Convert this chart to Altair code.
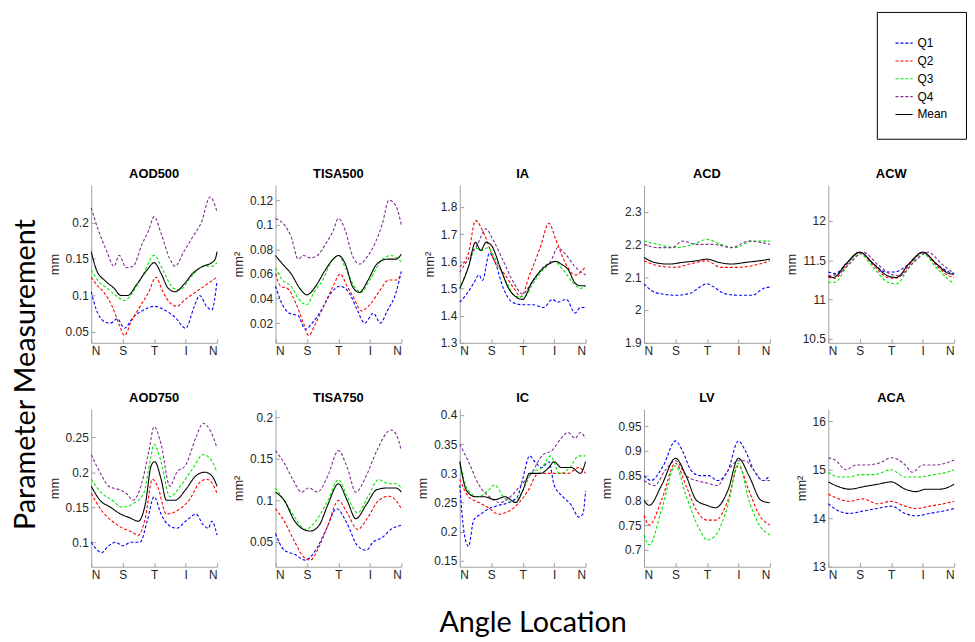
import altair as alt
import pandas as pd

SERIES = ["Q1", "Q2", "Q3", "Q4", "Mean"]
SERIES_COLORS = ["#0000ff", "#ff0000", "#00e600", "#7e2f8e", "#000000"]
SERIES_DASH = [[3, 2], [3, 2], [3, 2], [3, 2], [1, 0]]
SERIES_WIDTH = [1.1, 1.1, 1.1, 1.1, 2.5]
ANGLE_TICKS = [0, 90, 180, 270, 360]
ANGLE_LABELS = ["N", "S", "T", "I", "N"]

AOD500 = {
    "Q1": [(0, .105), (15, .08), (35, .065), (55, .062), (75, .068), (95, .055), (120, .07), (150, .08), (180, .085), (210, .08), (240, .07), (270, .055), (295, .085), (310, .1), (330, .085), (345, .08), (360, .12)],
    "Q2": [(0, .125), (15, .115), (35, .105), (60, .085), (80, .06), (95, .045), (115, .065), (140, .085), (165, .105), (185, .125), (205, .105), (225, .09), (245, .085), (270, .095), (300, .105), (330, .115), (360, .125)],
    "Q3": [(0, .135), (20, .12), (45, .11), (70, .1), (95, .093), (120, .105), (150, .13), (180, .155), (205, .135), (235, .11), (255, .108), (285, .125), (320, .14), (345, .14), (360, .145)],
    "Q4": [(0, .22), (20, .19), (45, .16), (65, .14), (80, .155), (100, .138), (120, .14), (145, .17), (165, .19), (180, .208), (200, .185), (225, .15), (240, .14), (265, .16), (290, .18), (315, .2), (340, .235), (360, .215)],
    "Mean": [(0, .16), (15, .135), (40, .12), (65, .11), (85, .1), (105, .1), (130, .115), (160, .135), (180, .145), (200, .13), (220, .11), (240, .105), (265, .115), (290, .13), (320, .14), (345, .145), (355, .15), (360, .16)],
}
TISA500 = {
    "Q1": [(0, .05), (20, .035), (40, .028), (65, .026), (85, .015), (105, .02), (130, .03), (160, .045), (185, .05), (210, .045), (235, .03), (255, .02), (280, .028), (300, .02), (320, .03), (345, .045), (360, .062)],
    "Q2": [(0, .06), (15, .05), (35, .048), (60, .035), (80, .02), (95, .01), (115, .02), (140, .035), (165, .05), (185, .06), (205, .05), (225, .04), (245, .03), (270, .035), (295, .045), (325, .055), (345, .055), (360, .06)],
    "Q3": [(0, .065), (20, .055), (45, .05), (65, .04), (90, .035), (110, .045), (135, .055), (160, .07), (180, .075), (200, .065), (225, .05), (245, .045), (270, .055), (300, .07), (330, .075), (360, .07)],
    "Q4": [(0, .105), (25, .1), (45, .09), (65, .072), (80, .075), (100, .073), (120, .075), (145, .085), (165, .095), (180, .105), (200, .095), (220, .075), (240, .068), (265, .075), (285, .085), (305, .1), (325, .12), (345, .115), (360, .1)],
    "Mean": [(0, .075), (20, .068), (45, .06), (70, .048), (90, .043), (115, .05), (140, .062), (165, .072), (180, .075), (200, .068), (220, .05), (240, .045), (265, .055), (290, .068), (320, .072), (345, .072), (360, .076)],
}
IA = {
    "Q1": [(0, 1.45), (20, 1.48), (40, 1.52), (55, 1.55), (65, 1.53), (85, 1.63), (100, 1.6), (125, 1.5), (150, 1.45), (180, 1.44), (210, 1.44), (240, 1.43), (265, 1.46), (280, 1.45), (305, 1.46), (330, 1.41), (345, 1.43), (360, 1.43)],
    "Q2": [(0, 1.58), (25, 1.63), (45, 1.75), (70, 1.7), (100, 1.6), (130, 1.55), (155, 1.5), (175, 1.47), (200, 1.55), (230, 1.65), (255, 1.74), (275, 1.68), (300, 1.6), (330, 1.55), (360, 1.58)],
    "Q3": [(0, 1.5), (25, 1.58), (45, 1.65), (60, 1.64), (80, 1.65), (105, 1.6), (135, 1.52), (160, 1.47), (185, 1.47), (210, 1.52), (240, 1.57), (270, 1.6), (295, 1.57), (325, 1.52), (345, 1.5), (360, 1.51)],
    "Q4": [(0, 1.56), (30, 1.62), (50, 1.66), (75, 1.72), (95, 1.68), (125, 1.6), (155, 1.52), (180, 1.48), (205, 1.52), (240, 1.58), (260, 1.6), (280, 1.65), (300, 1.63), (330, 1.58), (360, 1.55)],
    "Mean": [(0, 1.5), (25, 1.58), (45, 1.67), (60, 1.64), (75, 1.67), (90, 1.66), (115, 1.58), (140, 1.5), (160, 1.47), (180, 1.46), (205, 1.52), (235, 1.57), (255, 1.59), (275, 1.6), (290, 1.59), (310, 1.57), (330, 1.52), (345, 1.51), (360, 1.51)],
}
ACD = {
    "Q1": [(0, 2.08), (20, 2.06), (45, 2.05), (90, 2.045), (130, 2.05), (160, 2.07), (180, 2.08), (200, 2.07), (230, 2.05), (270, 2.045), (310, 2.045), (340, 2.065), (360, 2.07)],
    "Q2": [(0, 2.15), (40, 2.135), (90, 2.13), (130, 2.14), (180, 2.15), (220, 2.13), (270, 2.13), (310, 2.135), (360, 2.15)],
    "Q3": [(0, 2.21), (40, 2.2), (90, 2.19), (140, 2.2), (180, 2.215), (220, 2.2), (260, 2.19), (310, 2.21), (360, 2.21)],
    "Q4": [(0, 2.2), (40, 2.19), (80, 2.19), (110, 2.21), (150, 2.2), (200, 2.2), (250, 2.19), (300, 2.21), (360, 2.2)],
    "Mean": [(0, 2.16), (30, 2.145), (70, 2.14), (110, 2.145), (150, 2.15), (180, 2.155), (215, 2.145), (250, 2.14), (290, 2.145), (330, 2.15), (360, 2.155)],
}
ACW = {
    "Q1": [(0, 11.35), (20, 11.33), (50, 11.45), (90, 11.6), (130, 11.45), (165, 11.35), (190, 11.35), (230, 11.45), (270, 11.6), (310, 11.45), (345, 11.35), (360, 11.33)],
    "Q2": [(0, 11.28), (20, 11.27), (50, 11.43), (90, 11.6), (130, 11.43), (170, 11.28), (195, 11.27), (230, 11.43), (270, 11.6), (310, 11.43), (345, 11.3), (360, 11.28)],
    "Q3": [(0, 11.22), (20, 11.22), (50, 11.4), (90, 11.58), (130, 11.4), (170, 11.22), (195, 11.2), (230, 11.4), (270, 11.58), (310, 11.4), (345, 11.25), (360, 11.2)],
    "Q4": [(0, 11.3), (25, 11.32), (60, 11.45), (100, 11.6), (140, 11.45), (180, 11.32), (205, 11.3), (240, 11.45), (285, 11.6), (325, 11.45), (360, 11.33)],
    "Mean": [(0, 11.3), (15, 11.28), (50, 11.45), (90, 11.6), (130, 11.45), (170, 11.3), (195, 11.28), (230, 11.45), (270, 11.6), (310, 11.45), (345, 11.33), (360, 11.32)],
}
AOD750 = {
    "Q1": [(0, .1), (15, .09), (30, .085), (50, .095), (70, .1), (90, .095), (115, .1), (140, .1), (160, .13), (180, .165), (200, .14), (220, .125), (245, .12), (270, .13), (300, .14), (320, .125), (335, .12), (345, .13), (360, .11)],
    "Q2": [(0, .17), (30, .145), (60, .13), (90, .12), (115, .115), (135, .11), (155, .135), (175, .19), (190, .18), (215, .14), (245, .145), (280, .16), (310, .185), (330, .19), (345, .185), (360, .17)],
    "Q3": [(0, .19), (30, .17), (60, .16), (90, .15), (120, .155), (150, .17), (170, .22), (180, .24), (200, .215), (225, .165), (255, .18), (290, .205), (320, .225), (340, .22), (360, .2)],
    "Q4": [(0, .225), (25, .2), (50, .18), (80, .175), (100, .17), (120, .16), (145, .185), (165, .23), (180, .265), (200, .24), (225, .18), (245, .2), (270, .21), (300, .25), (320, .27), (340, .26), (360, .235)],
    "Mean": [(0, .18), (25, .16), (55, .15), (85, .14), (110, .135), (135, .13), (155, .155), (172, .21), (182, .215), (200, .19), (215, .16), (240, .16), (270, .175), (300, .195), (325, .2), (345, .195), (360, .18)],
}
TISA750 = {
    "Q1": [(0, .06), (25, .04), (55, .035), (85, .028), (115, .04), (145, .065), (175, .09), (205, .072), (235, .045), (260, .04), (280, .05), (305, .055), (330, .065), (360, .07)],
    "Q2": [(0, .09), (25, .075), (55, .05), (80, .032), (100, .028), (120, .04), (150, .07), (180, .1), (205, .085), (235, .065), (265, .08), (295, .1), (325, .105), (345, .1), (360, .09)],
    "Q3": [(0, .115), (25, .1), (55, .08), (85, .065), (115, .075), (150, .1), (180, .125), (205, .105), (235, .085), (265, .105), (295, .125), (325, .12), (345, .12), (360, .115)],
    "Q4": [(0, .16), (25, .145), (50, .125), (75, .11), (95, .115), (120, .11), (150, .13), (180, .16), (205, .14), (230, .11), (260, .13), (290, .16), (330, .185), (345, .18), (360, .16)],
    "Mean": [(0, .11), (25, .1), (55, .075), (80, .065), (100, .063), (125, .07), (150, .095), (180, .12), (205, .1), (230, .078), (260, .095), (290, .113), (320, .115), (345, .115), (360, .11)],
}
IC = {
    "Q1": [(0, .28), (12, .2), (25, .175), (40, .22), (60, .23), (85, .24), (110, .245), (140, .25), (165, .26), (180, .29), (200, .33), (215, .32), (235, .31), (255, .32), (270, .28), (295, .26), (320, .245), (340, .225), (352, .23), (360, .27)],
    "Q2": [(0, .29), (25, .26), (55, .25), (85, .24), (110, .23), (140, .235), (170, .25), (195, .27), (225, .3), (255, .3), (280, .3), (310, .3), (340, .31), (360, .3)],
    "Q3": [(0, .32), (25, .27), (55, .26), (80, .27), (100, .28), (125, .26), (155, .25), (180, .27), (205, .3), (235, .31), (260, .33), (285, .3), (315, .31), (340, .33), (360, .33)],
    "Q4": [(0, .35), (25, .32), (55, .28), (85, .26), (115, .25), (145, .26), (175, .28), (205, .3), (235, .33), (265, .34), (290, .36), (310, .37), (330, .36), (345, .37), (360, .36)],
    "Mean": [(0, .32), (20, .27), (45, .26), (70, .26), (100, .255), (130, .26), (160, .25), (180, .27), (200, .3), (230, .3), (255, .31), (270, .32), (290, .31), (320, .31), (345, .3), (360, .32)],
}
LV = {
    "Q1": [(0, .85), (20, .84), (55, .87), (90, .92), (110, .9), (135, .86), (160, .85), (185, .85), (210, .84), (240, .86), (270, .92), (290, .9), (315, .86), (340, .84), (360, .85)],
    "Q2": [(0, .77), (15, .75), (50, .8), (90, .875), (120, .83), (150, .78), (180, .76), (205, .76), (240, .8), (270, .87), (300, .82), (330, .77), (360, .75)],
    "Q3": [(0, .73), (15, .71), (50, .78), (90, .87), (120, .81), (160, .74), (180, .72), (205, .73), (240, .79), (270, .875), (300, .8), (330, .75), (360, .73)],
    "Q4": [(0, .84), (30, .83), (60, .86), (90, .88), (120, .85), (150, .84), (180, .835), (210, .83), (240, .86), (270, .88), (290, .88), (315, .86), (340, .84), (360, .84)],
    "Mean": [(0, .8), (15, .79), (50, .83), (90, .885), (120, .85), (150, .8), (180, .79), (205, .785), (240, .82), (270, .885), (300, .85), (335, .8), (360, .795)],
}
ACA = {
    "Q1": [(0, 14.3), (30, 14.15), (60, 14.1), (100, 14.15), (140, 14.2), (180, 14.25), (220, 14.1), (250, 14.05), (290, 14.1), (330, 14.15), (360, 14.2)],
    "Q2": [(0, 14.5), (30, 14.4), (60, 14.35), (100, 14.4), (140, 14.3), (180, 14.35), (220, 14.25), (250, 14.2), (290, 14.25), (330, 14.3), (360, 14.35)],
    "Q3": [(0, 14.95), (30, 14.85), (60, 14.85), (90, 14.9), (130, 14.9), (180, 15.0), (220, 14.85), (260, 14.85), (300, 14.9), (340, 14.95), (360, 15.0)],
    "Q4": [(0, 15.25), (20, 15.2), (50, 15.0), (80, 15.1), (110, 15.1), (150, 15.15), (180, 15.25), (220, 15.1), (240, 14.95), (270, 15.1), (310, 15.1), (340, 15.15), (360, 15.2)],
    "Mean": [(0, 14.75), (30, 14.65), (60, 14.6), (100, 14.65), (140, 14.7), (180, 14.75), (220, 14.6), (250, 14.55), (280, 14.6), (320, 14.6), (360, 14.7)],
}

# (title, unit, data, y-domain, y-ticks)
ROW1 = [
    ("AOD500", "mm", AOD500, [0.035, 0.251], [0.05, 0.1, 0.15, 0.2]),
    ("TISA500", "mm²", TISA500, [0.004, 0.132], [0.02, 0.04, 0.06, 0.08, 0.1, 0.12]),
    ("IA", "mm²", IA, [1.3, 1.88], [1.3, 1.4, 1.5, 1.6, 1.7, 1.8]),
    ("ACD", "mm", ACD, [1.9, 2.38], [1.9, 2.0, 2.1, 2.2, 2.3]),
    ("ACW", "mm", ACW, [10.45, 12.45], [10.5, 11, 11.5, 12]),
]
ROW2 = [
    ("AOD750", "mm", AOD750, [0.065, 0.29], [0.1, 0.15, 0.2, 0.25]),
    ("TISA750", "mm²", TISA750, [0.02, 0.21], [0.05, 0.1, 0.15, 0.2]),
    ("IC", "mm", IC, [0.14, 0.41], [0.15, 0.2, 0.25, 0.3, 0.35, 0.4]),
    ("LV", "mm", LV, [0.666, 0.984], [0.7, 0.75, 0.8, 0.85, 0.9, 0.95]),
    ("ACA", "mm²", ACA, [13.0, 16.25], [13, 14, 15, 16]),
]

FONT = "Liberation Sans"
label_expr = " : ".join(
    f"datum.value == {t} ? '{l}'" for t, l in zip(ANGLE_TICKS[:-1], ANGLE_LABELS[:-1])
) + f" : '{ANGLE_LABELS[-1]}'"


def panel(title, unit, data, domain, ticks):
    rows = []
    for s in SERIES:
        for a, v in data[s]:
            rows.append({"series": s, "angle": a, "value": v})
    df = pd.DataFrame(rows)
    return alt.Chart(df).mark_line(interpolate="monotone").encode(
        x=alt.X("angle:Q", scale=alt.Scale(domain=[0, 360], nice=False),
                axis=alt.Axis(values=ANGLE_TICKS, labelExpr=label_expr, title=None)),
        y=alt.Y("value:Q", scale=alt.Scale(domain=domain, nice=False, zero=False),
                axis=alt.Axis(values=ticks, format="~g", title=unit)),
        color=alt.Color("series:N", scale=alt.Scale(domain=SERIES, range=SERIES_COLORS),
                        legend=alt.Legend(title=" ")),
        strokeDash=alt.StrokeDash("series:N", scale=alt.Scale(domain=SERIES, range=SERIES_DASH),
                                  legend=alt.Legend(title=" ")),
        strokeWidth=alt.StrokeWidth("series:N", scale=alt.Scale(domain=SERIES, range=SERIES_WIDTH),
                                    legend=alt.Legend(title=" ")),
    ).properties(
        width=127, height=159,
        title=alt.TitleParams(title, font=FONT, fontSize=13, fontWeight="bold", offset=4),
    )


row1 = alt.hconcat(*[panel(*p) for p in ROW1], spacing=59, bounds="flush")
row2 = alt.hconcat(*[panel(*p) for p in ROW2], spacing=59, bounds="flush")
inner = alt.vconcat(row1, row2, spacing=35).properties(
    title=alt.TitleParams("Parameter Measurement", orient="left", anchor="middle", font="Lato",
                          fontSize=29, fontWeight="normal", offset=7)
)
chart = alt.vconcat(inner).properties(
    title=alt.TitleParams("Angle Location", orient="bottom", anchor="middle", font="Lato",
                          fontSize=29, fontWeight="normal", offset=29, dx=44)
).configure(
    padding={"left": 4, "top": 0, "right": 0, "bottom": 0},
).configure_view(
    stroke=None,
).configure_axis(
    grid=False,
    labelFont=FONT, labelFontSize=12, labelColor="#262626",
    titleFont=FONT, titleFontSize=13, titleFontWeight="normal", titleColor="#262626",
    domainColor="#a0a0a0", tickColor="#a0a0a0", tickSize={"expr": "-4"},
    labelPadding=7, titlePadding=4,
).configure_legend(
    orient="none", legendX=793, legendY=-175,
    strokeColor="black", fillColor="white", padding=18,
    symbolType="stroke", symbolSize=300,
    titleFontSize=3, titlePadding=1,
    labelFont=FONT, labelFontSize=12, labelColor="#000000", rowPadding=2,
)

chart.save("out.html", embed_options={"renderer": "svg", "actions": False})
